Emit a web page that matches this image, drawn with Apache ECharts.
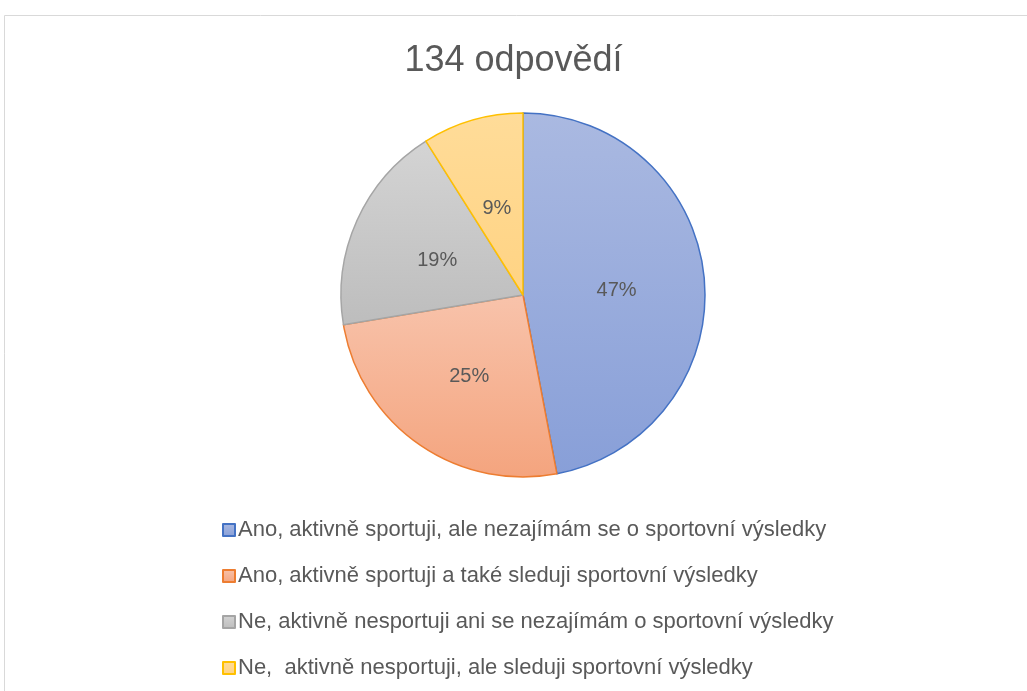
<!DOCTYPE html>
<html>
<head>
<meta charset="utf-8">
<script src="https://cdn.jsdelivr.net/npm/echarts@6/dist/echarts.min.js"></script>
<style>
  html, body { margin: 0; padding: 0; background: #fff; }
  #chart { width: 1027px; height: 691px; }
</style>
</head>
<body>
<div id="chart"></div>
<script>
var titleText = '134 odpovědí';
var categories = [
    'Ano, aktivně sportuji, ale nezajímám se o sportovní výsledky',
    'Ano, aktivně sportuji a také sleduji sportovní výsledky',
    'Ne, aktivně nesportuji ani se nezajímám o sportovní výsledky',
    'Ne,  aktivně nesportuji, ale sleduji sportovní výsledky'
];
var counts = [63, 34, 25, 12];
var lineColors = ['#4472c4', '#ed7d31', '#a5a5a5', '#ffc000'];
var fillTop = ['#aab9e1', '#f8c3ab', '#d4d4d4', '#ffdc99'];
var fillBottom = ['#889fd8', '#f4a47e', '#bdbdbd', '#ffd383'];

var font = "'Liberation Sans', Arial, sans-serif";

function grad(i){
    return new echarts.graphic.LinearGradient(0, 0, 0, 1, [
        {offset: 0, color: fillTop[i]},
        {offset: 1, color: fillBottom[i]}
    ]);
}

var chart = echarts.init(document.getElementById('chart'));

chart.setOption({
    animation: false,
    title: {
        text: titleText,
        left: 'center',
        top: 43,
        padding: 0,
        textStyle: {
            color: '#595959',
            fontSize: 36,
            fontWeight: 'normal',
            fontFamily: font
        }
    },
    legend: {
        orient: 'vertical',
        left: 222,
        top: 518,
        padding: 0,
        itemWidth: 12,
        itemHeight: 12,
        itemGap: 22,
        icon: 'rect',
        textStyle: {
            color: '#595959',
            fontSize: 22,
            lineHeight: 24,
            fontFamily: font,
            padding: [0, 0, 0, -2]
        },
        data: categories
    },
    graphic: [{
        type: 'rect',
        shape: {x: 4.5, y: 15.5, width: 1100, height: 800},
        style: {fill: 'none', stroke: '#d9d9d9', lineWidth: 1},
        silent: true,
        z: -1
    }],
    series: [{
        type: 'pie',
        center: [523, 295],
        radius: 182,
        startAngle: 90,
        clockwise: true,
        percentPrecision: 0,
        label: {
            position: 'inside',
            formatter: '{d}%',
            color: '#595959',
            fontSize: 20,
            fontFamily: font,
            offset: [0, 4]
        },
        labelLine: {show: false},
        emphasis: {disabled: true},
        data: counts.map(function(v, i){
            return {
                name: categories[i],
                value: v,
                itemStyle: {
                    color: grad(i),
                    borderColor: lineColors[i],
                    borderWidth: 1.5
                }
            };
        })
    }]
});
</script>
</body>
</html>
